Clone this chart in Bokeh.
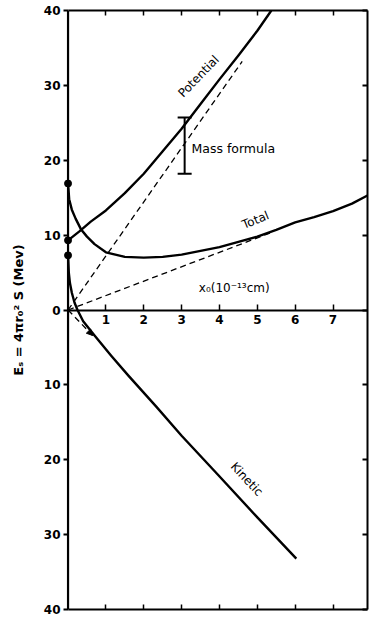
from bokeh.plotting import figure
from bokeh.models import (LinearAxis, FixedTicker, Whisker, TeeHead, Arrow, NormalHead,
                          ColumnDataSource, Range1d, Span)
from bokeh.core.properties import value
from bokeh.embed import file_html
from bokeh.resources import INLINE

# ---- data (x0 in 1e-13 cm, energy in MeV) ----
potential_x = [0.0, 0.3, 0.6, 1.0, 1.5, 2.0, 2.5, 3.0, 3.5, 4.0, 4.5, 5.0, 5.37]
potential_y = [9.3, 10.5, 11.8, 13.3, 15.6, 18.2, 21.2, 24.2, 27.5, 30.8, 34.0, 37.3, 40.0]

total_x = [0.0, 0.03, 0.1, 0.2, 0.34, 0.5, 0.7, 1.0, 1.5, 2.0, 2.5, 3.0, 3.5,
           4.0, 4.5, 5.0, 5.5, 6.0, 6.5, 7.0, 7.5, 7.91]
total_y = [16.9, 14.8, 13.4, 12.2, 10.8, 9.8, 8.8, 7.7, 7.1, 7.0, 7.1, 7.4, 7.9,
           8.4, 9.1, 9.8, 10.7, 11.7, 12.4, 13.2, 14.2, 15.3]

kinetic_x = [0.0, 0.02, 0.05, 0.1, 0.17, 0.25, 0.4, 0.7, 1.14, 1.6, 2.33, 3.0,
             3.96, 5.0, 6.03]
kinetic_y = [7.3, 5.0, 3.6, 2.3, 1.0, 0.0, -1.5, -3.4, -6.1, -8.8, -12.9, -16.8,
             -22.0, -27.7, -33.2]

# values at x0 = 0 (marked by dots): total, potential, kinetic
dot_x = [0.0, 0.0, 0.0]
dot_y = [16.9, 9.3, 7.3]

# dashed tangents from the origin (to potential, total, kinetic)
tangent_x0 = [0.0, 0.0, 0.0]
tangent_y0 = [0.0, 0.0, 0.0]
tangent_x1 = [4.6, 5.4, 0.65]
tangent_y1 = [33.2, 10.4, -3.4]

# mass formula range
mass_x = [3.08]
mass_low = [18.2]
mass_high = [25.7]

x_ticks = [1, 2, 3, 4, 5, 6, 7]
y_ticks = [-40, -30, -20, -10, 0, 10, 20, 30, 40]
y_tick_labels = {-40: "40", -30: "30", -20: "20", -10: "10", 0: "0",
                 10: "10", 20: "20", 30: "30", 40: "40"}

X_MIN, X_MAX = -0.12, 7.91
FONT = "DejaVu Sans"

p = figure(frame_width=304, frame_height=599,
           x_range=Range1d(X_MIN, X_MAX), y_range=Range1d(-40, 40),
           output_backend="svg", toolbar_location=None,
           min_border_left=63, min_border_top=10,
           min_border_right=2, min_border_bottom=9)
p.grid.visible = False
p.background_fill_color = "white"
p.border_fill_color = "white"
p.outline_line_color = None

# left axis: labels outside, ticks reach from the frame edge to x0 = 0
ya = p.yaxis[0]
ya.ticker = FixedTicker(ticks=y_ticks)
ya.major_label_overrides = y_tick_labels
ya.major_tick_in = 5
ya.major_tick_out = 0
ya.major_tick_line_width = 2
ya.minor_tick_line_color = None
ya.axis_line_color = None
ya.major_label_text_font = FONT
ya.major_label_text_font_style = "bold"
ya.major_label_text_font_size = "12px"
ya.major_label_text_color = "black"
ya.major_label_standoff = 3
ya.axis_label = "Eₛ = 4πr₀² S (Mev)"
ya.axis_label_text_font = FONT
ya.axis_label_text_font_style = "bold"
ya.axis_label_text_font_size = "13px"
ya.axis_label_text_color = "black"
ya.axis_label_standoff = 15

# the vertical axis line at x0 = 0
p.add_layout(Span(location=0, dimension="height", line_color="black", line_width=2.2))

no_labels_x = {t: "" for t in x_ticks}
no_labels_y = {t: "" for t in y_ticks}

# bottom border axis (ticks only)
xa = p.xaxis[0]
xa.ticker = FixedTicker(ticks=x_ticks)
xa.bounds = (0, X_MAX)
xa.major_label_overrides = no_labels_x
xa.major_label_standoff = 0
xa.major_tick_in = 5
xa.major_tick_out = 0
xa.major_tick_line_width = 1.5
xa.minor_tick_line_color = None
xa.axis_line_width = 2

# top and right border ticks
top = LinearAxis(ticker=FixedTicker(ticks=x_ticks), bounds=(0, X_MAX),
                 major_label_overrides=no_labels_x,
                 major_label_standoff=0, major_tick_in=5, major_tick_out=0,
                 major_tick_line_width=1.5, minor_tick_line_color=None, axis_line_width=2)
p.add_layout(top, "above")
right = LinearAxis(ticker=FixedTicker(ticks=y_ticks), major_label_overrides=no_labels_y,
                   major_label_standoff=0, major_tick_in=5, major_tick_out=0,
                   major_tick_line_width=2, minor_tick_line_color=None, axis_line_width=2)
p.add_layout(right, "right")

# x axis through zero
zero_axis = LinearAxis(ticker=FixedTicker(ticks=x_ticks), fixed_location=0,
                       bounds=(0, X_MAX),
                       major_tick_in=6, major_tick_out=0, major_tick_line_width=1.5,
                       minor_tick_line_color=None, axis_line_width=2,
                       major_label_text_font=FONT, major_label_text_font_style="bold",
                       major_label_text_font_size="12px", major_label_text_color="black",
                       major_label_standoff=5)
p.add_layout(zero_axis, "below")

# dashed tangents
p.segment(tangent_x0, tangent_y0, tangent_x1, tangent_y1,
          line_color="black", line_width=1.3, line_dash="6 4")
p.add_layout(Arrow(end=NormalHead(size=6, fill_color="black", line_color="black"),
                   x_start=tangent_x0[2], y_start=tangent_y0[2],
                   x_end=tangent_x1[2], y_end=tangent_y1[2], line_alpha=0))

# curves
for xs, ys in [(potential_x, potential_y), (total_x, total_y), (kinetic_x, kinetic_y)]:
    p.line(xs, ys, line_color="black", line_width=2.4, line_join="round")

p.scatter(dot_x, dot_y, size=7, color="black")

# mass formula bar
src = ColumnDataSource(dict(base=mass_x, lower=mass_low, upper=mass_high))
p.add_layout(Whisker(source=src, base="base", lower="lower", upper="upper",
                     dimension="height", line_width=2, line_color="black",
                     upper_head=TeeHead(size=14, line_width=2, line_color="black"),
                     lower_head=TeeHead(size=14, line_width=2, line_color="black")))

def label(x, y, t, angle=0, align="center", size="12px"):
    p.text([x], [y], text=[t], angle=angle, angle_units="deg",
           text_align=align, text_baseline="middle", text_color="black",
           text_font=value(FONT), text_font_size=size)

label(3.26, 21.6, "Mass formula", align="left", size="12.5px")
label(3.45, 31.2, "Potential", angle=46)
label(4.95, 12.0, "Total", angle=22)
label(4.72, -22.6, "Kinetic", angle=-47)
label(4.39, 3.0, "x₀(10⁻¹³cm)")

open("out.html", "w").write(file_html(p, INLINE))
